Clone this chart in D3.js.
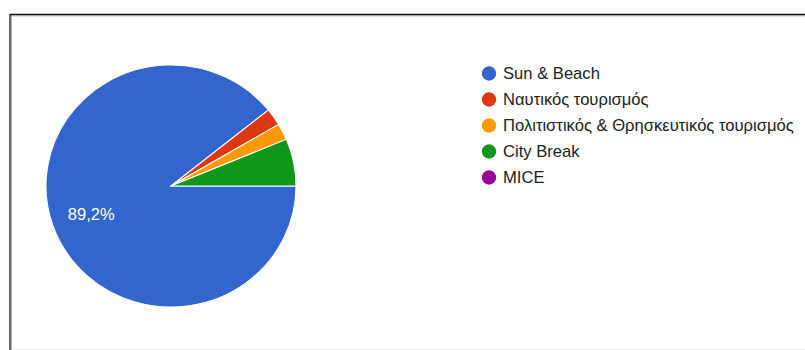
<!DOCTYPE html>
<html>
<head>
<meta charset="utf-8">
<script src="https://cdn.jsdelivr.net/npm/d3@7"></script>
<style>
  html, body { margin: 0; padding: 0; background: #fff; }
  svg { display: block; }
</style>
</head>
<body>
<svg id="chart" width="805" height="350"></svg>
<script>
// Tourism types and their share of responses (%)
const categories = ["Sun & Beach", "Ναυτικός τουρισμός", "Πολιτιστικός & Θρησκευτικός τουρισμός", "City Break", "MICE"];
const shares = [89.2, 2.3, 2.2, 6.3, 0];
const colors = ["#3366cc", "#dc3912", "#ff9900", "#109618", "#990099"];

const svg = d3.select("#chart");
const W = 805, H = 350;

// Frame around the chart card
svg.append("line").attr("x1", 10).attr("y1", 14.5).attr("x2", W).attr("y2", 14.5)
  .attr("stroke", "#111").attr("stroke-width", 1.3);
svg.append("line").attr("x1", 10).attr("y1", 15.8).attr("x2", W).attr("y2", 15.8)
  .attr("stroke", "#9a9a9a").attr("stroke-width", 1);
svg.append("line").attr("x1", 10).attr("y1", 14).attr("x2", 10).attr("y2", H)
  .attr("stroke", "#111").attr("stroke-width", 1.3);
svg.append("line").attr("x1", 11.3).attr("y1", 16).attr("x2", 11.3).attr("y2", H)
  .attr("stroke", "#9a9a9a").attr("stroke-width", 1);
svg.append("line").attr("x1", 12).attr("y1", 349.5).attr("x2", W).attr("y2", 349.5)
  .attr("stroke", "#f0f0f0").attr("stroke-width", 1);

// Pie, starting at 3 o'clock and running clockwise
const cx = 171, cy = 186, r = 121, sx = 125 / 121;
const data = categories.map((c, i) => ({ name: c, value: shares[i], color: colors[i] }));
const pie = d3.pie().value(d => d.value).sort(null)
  .startAngle(Math.PI / 2).endAngle(Math.PI / 2 + 2 * Math.PI);
const arcs = pie(data);
const arc = d3.arc().innerRadius(0).outerRadius(r);

const g = svg.append("g").attr("transform", `translate(${cx},${cy}) scale(${sx},1)`);
g.selectAll("path").data(arcs.filter(a => a.data.value > 0)).join("path")
  .attr("d", arc)
  .attr("fill", d => d.data.color)
  .attr("stroke", "#fff")
  .attr("stroke-width", 1)
  .attr("stroke-linejoin", "round");

// Percentage label on slices large enough to hold one
const labelArc = d3.arc().innerRadius(85).outerRadius(85);
const fmt = v => v.toFixed(1).replace(".", ",") + "%";
svg.append("g").attr("transform", `translate(${cx},${cy})`)
  .selectAll("text").data(arcs.filter(a => a.data.value >= 10)).join("text")
  .attr("transform", d => { const [x, y] = labelArc.centroid(d); return `translate(${x * sx + 3},${y})`; })
  .attr("text-anchor", "middle")
  .attr("dy", "0.36em")
  .attr("fill", "#fff")
  .attr("font-family", "Arial, 'Liberation Sans', sans-serif")
  .attr("font-size", 16.5)
  .text(d => fmt(d.data.value));

// Legend
const legend = svg.append("g").attr("transform", "translate(489,73.5)");
const rows = legend.selectAll("g").data(data).join("g")
  .attr("transform", (d, i) => `translate(0,${i * 26})`);
rows.append("circle").attr("r", 7.2).attr("fill", d => d.color);
rows.append("text")
  .attr("x", 14).attr("dy", "0.36em")
  .attr("fill", "#222")
  .attr("font-family", "Arial, 'Liberation Sans', sans-serif")
  .attr("font-size", 16.6)
  .text(d => d.name);
</script>
</body>
</html>
